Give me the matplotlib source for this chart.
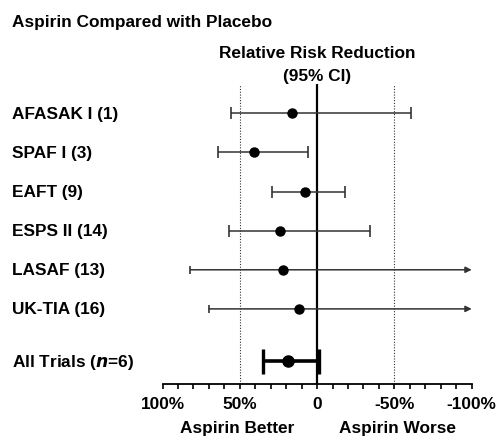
import matplotlib
matplotlib.use("Agg")
import matplotlib.pyplot as plt
from matplotlib import transforms

plt.rcParams['font.family'] = ['Liberation Sans', 'DejaVu Sans']
plt.rcParams['font.weight'] = 'bold'

# ----------------------------------------------
#                DATA
# ----------------------------------------------
trials = ['AFASAK I (1)', 'SPAF I (3)', 'EAFT (9)', 'ESPS II (14)',
          'LASAF (13)', 'UK-TIA (16)']
rrr = [16, 41, 8, 24, 22, 12]            # relative risk reduction, %
ci_low = [56, 64, 29, 57, 82, 70]        # favouring aspirin end
ci_high = [-61, 6, -18, -34, None, None]  # None -> off scale (arrow)

pooled_label = 'All Trials ($\\mathit{n}$=6)'
pooled_rrr = 19
pooled_low = 35
pooled_high = -1

tick_vals = [100, 50, 0, -50, -100]
tick_text = ['100%', '50%', '0', '-50%', '-100%']

# ----------------------------------------------
#                PLOT
# ----------------------------------------------
W, H = 498, 439
FS = 12.4
fig = plt.figure(figsize=(W / 100, H / 100), dpi=100)
ax = fig.add_axes([162.5 / W, 54 / H, 309.2 / W, 300 / H])

rows = list(range(len(trials)))
pooled_y = len(trials) + 0.34

ax.set_xlim(100, -100)
ax.set_ylim(pooled_y + 0.58, -0.75)

# reference lines
ax.axvline(0, color='black', lw=1.6, zorder=1)
for v in (50, -50):
    ax.axvline(v, color='#333333', lw=0.8, ls=(0, (1, 1.5)), zorder=1)

# individual trials
for y, m, lo, hi in zip(rows, rrr, ci_low, ci_high):
    if hi is None:
        ax.plot([lo], [y], marker='|', ms=6, mew=1.2, color='#333333')
        ax.annotate('', xy=(-100, y), xytext=(lo, y),
                    arrowprops=dict(arrowstyle='-|>', color='#333333',
                                    lw=1.1, mutation_scale=9,
                                    shrinkA=0, shrinkB=0))
    else:
        ax.errorbar([m], [y], xerr=[[m - hi], [lo - m]], fmt='none',
                    ecolor='#333333', elinewidth=1.1, capsize=4, capthick=1.2)
    ax.plot([m], [y], 'o', color='black', ms=6.5, zorder=3)

# pooled estimate
ax.errorbar([pooled_rrr], [pooled_y],
            xerr=[[pooled_rrr - pooled_high], [pooled_low - pooled_rrr]],
            fmt='o', color='black', ms=8, elinewidth=2.6,
            capsize=9, capthick=2.4, zorder=3)

# axes styling
for s in ('top', 'left', 'right'):
    ax.spines[s].set_visible(False)
ax.spines['bottom'].set_linewidth(1.3)
ax.set_yticks([])
ax.set_xticks(range(-100, 101, 10), minor=True)
ax.set_xticks(tick_vals)
ax.set_xticklabels(tick_text, fontsize=FS, fontweight='bold')
ax.tick_params(axis='x', which='both', direction='out', length=3.5,
               width=1.2, pad=5)

# row labels
trans = transforms.blended_transform_factory(fig.transFigure, ax.transData)
for y, name in zip(rows, trials):
    ax.text(12 / W, y, name, transform=trans, ha='left', va='center',
            fontsize=FS, fontweight='bold')
ax.text(12 / W, pooled_y, pooled_label, transform=trans, ha='left',
        va='center', fontsize=FS, fontweight='bold')

# titles
fig.text(12 / W, 1 - 22 / H, 'Aspirin Compared with Placebo',
         ha='left', va='center', fontsize=FS, fontweight='bold')
fig.text(317 / W, 1 - 53 / H, 'Relative Risk Reduction',
         ha='center', va='center', fontsize=FS, fontweight='bold')
fig.text(317 / W, 1 - 76 / H, '(95% CI)',
         ha='center', va='center', fontsize=FS, fontweight='bold')
fig.text(237 / W, 1 - 429 / H, 'Aspirin Better',
         ha='center', va='center', fontsize=FS, fontweight='bold')
fig.text(397 / W, 1 - 429 / H, 'Aspirin Worse',
         ha='center', va='center', fontsize=FS, fontweight='bold')

fig.savefig('out.png', dpi=100)
